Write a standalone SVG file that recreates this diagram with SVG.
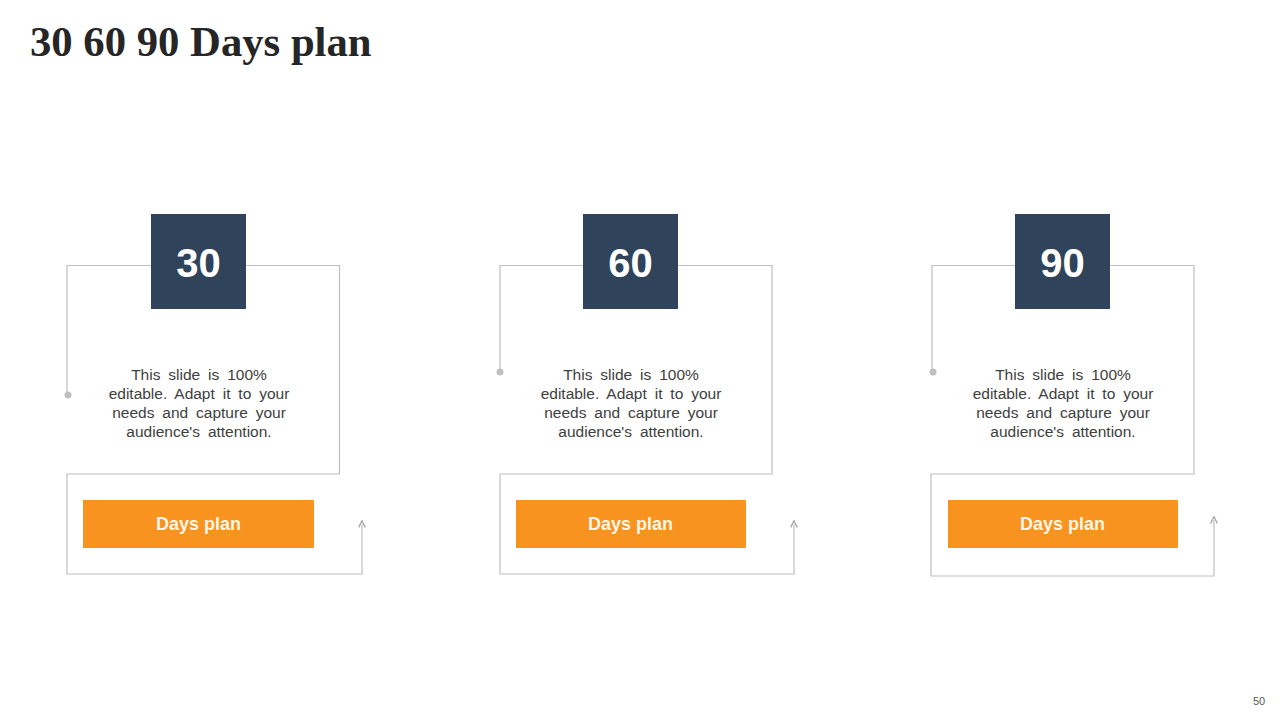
<svg xmlns="http://www.w3.org/2000/svg" width="1280" height="720" viewBox="0 0 1280 720">
  <defs>
    <style>
      .title { font-family: "Liberation Serif", "Times New Roman", serif; font-weight: bold; font-size: 42.7px; fill: #262626; }
      .frame { fill: none; stroke: #BFBFBF; stroke-width: 1.2; }
      .navy { fill: #2F435B; }
      .num { font-family: "Liberation Sans", Arial, sans-serif; font-weight: bold; font-size: 40px; fill: #FFFFFF; text-anchor: middle; }
      .body { font-family: "Liberation Sans", Arial, sans-serif; font-size: 15.5px; fill: #404040; text-anchor: middle; word-spacing: 3.6px; }
      .orange { fill: #F7931E; }
      .lbl { font-family: "Liberation Sans", Arial, sans-serif; font-weight: bold; font-size: 18px; fill: #FFF6E6; text-anchor: middle; }
      .dot { fill: #BFBFBF; }
      .pg { font-family: "Liberation Sans", Arial, sans-serif; font-size: 11px; fill: #595959; }
    </style>
    <marker id="arr" viewBox="0 0 10 10" refX="5" refY="5" markerWidth="7" markerHeight="7" orient="auto">
      <path d="M1,1 L9,5 L1,9" fill="none" stroke="#A6A6A6" stroke-width="1.5"/>
    </marker>
  </defs>

  <text class="title" x="30" y="56">30 60 90 Days plan</text>

  <g id="connectors">
    <!-- panel 1 -->
    <path class="frame" d="M67,392 V265.5 H151 M246,265.5 H339.5 V474 H67"/>
    <path class="frame" d="M67,474 V574 H362 V524" marker-end="url(#arr)"/>
    <!-- panel 2 -->
    <path class="frame" d="M500,370 V265.5 H583 M678,265.5 H772 V474 H500"/>
    <path class="frame" d="M500,474 V574 H794 V524" marker-end="url(#arr)"/>
    <!-- panel 3 -->
    <path class="frame" d="M932,370 V265.5 H1015 M1110,265.5 H1194 V474 H931"/>
    <path class="frame" d="M931,474 V576 H1214 V520" marker-end="url(#arr)"/>
  </g>

  <g id="node-30">
    <circle class="dot" cx="68" cy="395" r="3.5"/>
    <rect class="navy" x="151" y="214" width="95" height="95"/>
    <text class="num" x="198.5" y="277">30</text>
    <text class="body" x="199" y="380">This slide is 100%</text>
    <text class="body" x="199" y="399">editable. Adapt it to your</text>
    <text class="body" x="199" y="418">needs and capture your</text>
    <text class="body" x="199" y="437">audience's attention.</text>
    <rect class="orange" x="83" y="500" width="231" height="48"/>
    <text class="lbl" x="198.5" y="530">Days plan</text>
  </g>

  <g id="node-60">
    <circle class="dot" cx="500" cy="372" r="3.5"/>
    <rect class="navy" x="583" y="214" width="95" height="95"/>
    <text class="num" x="630.5" y="277">60</text>
    <text class="body" x="631" y="380">This slide is 100%</text>
    <text class="body" x="631" y="399">editable. Adapt it to your</text>
    <text class="body" x="631" y="418">needs and capture your</text>
    <text class="body" x="631" y="437">audience's attention.</text>
    <rect class="orange" x="516" y="500" width="230" height="48"/>
    <text class="lbl" x="630.5" y="530">Days plan</text>
  </g>

  <g id="node-90">
    <circle class="dot" cx="933" cy="372" r="3.5"/>
    <rect class="navy" x="1015" y="214" width="95" height="95"/>
    <text class="num" x="1062.5" y="277">90</text>
    <text class="body" x="1063" y="380">This slide is 100%</text>
    <text class="body" x="1063" y="399">editable. Adapt it to your</text>
    <text class="body" x="1063" y="418">needs and capture your</text>
    <text class="body" x="1063" y="437">audience's attention.</text>
    <rect class="orange" x="948" y="500" width="230" height="48"/>
    <text class="lbl" x="1062.5" y="530">Days plan</text>
  </g>

  <text class="pg" x="1253" y="705">50</text>
</svg>
